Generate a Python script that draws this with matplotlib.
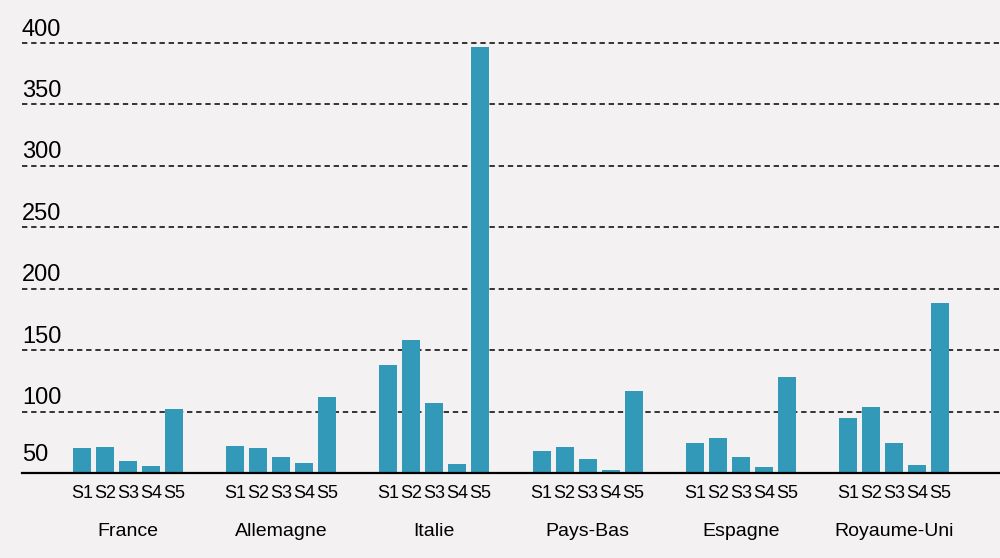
import matplotlib.pyplot as plt
import numpy as np

# - Data

countries = ["France", "Allemagne", "Italie", "Pays-Bas", "Espagne", "Royaume-Uni"]
series = ["S1", "S2", "S3", "S4", "S5"]
values = {
    "France": [70, 71, 60, 56, 102],
    "Allemagne": [72, 70.5, 63, 58, 111.5],
    "Italie": [138, 158, 107, 57, 397],
    "Pays-Bas": [68, 71.5, 61.5, 52.5, 117],
    "Espagne": [74.5, 78.5, 63, 55, 128],
    "Royaume-Uni": [94.5, 103.5, 74.5, 56.5, 188.5],
}
y_ticks = [50, 100, 150, 200, 250, 300, 350, 400]

bg = "#f3f1f2"
bar_color = "#3399b8"
label_font = ["Liberation Sans", "DejaVu Sans"]

# - Figure

fig = plt.figure(figsize=(10, 5.58), dpi=100, facecolor=bg)
ax = fig.add_axes([0.022, (558 - 473) / 558, 0.978, 473 / 558])
ax.set_facecolor(bg)

step = 0.15
width = 0.118
offsets = (np.arange(len(series)) - 2) * step

xticks, xlabels = [], []
for i, c in enumerate(countries):
    xs = i + offsets
    ax.bar(xs, np.array(values[c]) - 50, bottom=50, width=width, color=bar_color, zorder=2)
    xticks += list(xs)
    xlabels += series
    ax.annotate(c, xy=(i, 0), xycoords=("data", "axes fraction"), xytext=(0, -42),
                textcoords="offset points", ha="center", va="center",
                fontsize=14, family=label_font)

ax.set_xlim(-0.69, 5.69)
ax.set_ylim(50, 435)

# - Grid and y labels

for t in y_ticks[1:]:
    ax.axhline(t, color="black", lw=1.1, ls=(0, (3.5, 2.5)), zorder=1)
    ax.annotate(str(t), xy=(0, t), xycoords=("axes fraction", "data"), xytext=(0, 1.8),
                textcoords="offset points", ha="left", va="bottom",
                fontsize=17, family=label_font)
ax.annotate("50", xy=(0, 50), xycoords=("axes fraction", "data"), xytext=(0, 5),
            textcoords="offset points", ha="left", va="bottom",
            fontsize=17, family=label_font)
ax.axhline(50, color="black", lw=1.6, zorder=3, clip_on=False)

ax.set_xticks(xticks)
ax.set_xticklabels(xlabels, fontsize=13, family=label_font)
ax.tick_params(axis="x", length=0, pad=8.5)
ax.set_yticks([])
for s in ax.spines.values():
    s.set_visible(False)

fig.savefig("out.png", dpi=100, facecolor=bg)
